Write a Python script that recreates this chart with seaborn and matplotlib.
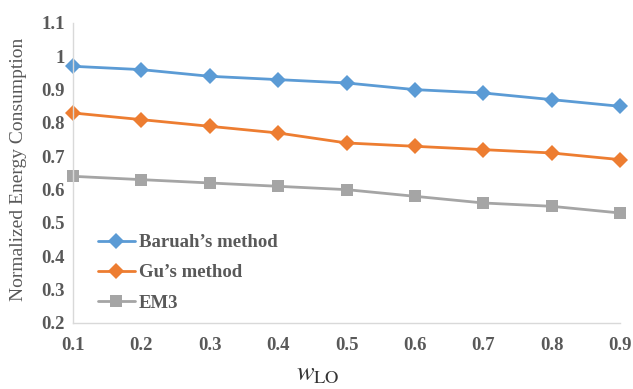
import seaborn as sns
import pandas as pd
import matplotlib.pyplot as plt

# data
w_lo = [0.1, 0.2, 0.3, 0.4, 0.5, 0.6, 0.7, 0.8, 0.9]
baruah = [0.97, 0.96, 0.94, 0.93, 0.92, 0.90, 0.89, 0.87, 0.85]
gu = [0.83, 0.81, 0.79, 0.77, 0.74, 0.73, 0.72, 0.71, 0.69]
em3 = [0.64, 0.63, 0.62, 0.61, 0.60, 0.58, 0.56, 0.55, 0.53]
methods = ["Baruah\u2019s method", "Gu\u2019s method", "EM3"]
y_ticks = [0.2, 0.3, 0.4, 0.5, 0.6, 0.7, 0.8, 0.9, 1.0, 1.1]
y_ticklabels = ["0.2", "0.3", "0.4", "0.5", "0.6", "0.7", "0.8", "0.9", "1", "1.1"]

df = pd.DataFrame({
    "w": w_lo * 3,
    "value": baruah + gu + em3,
    "method": [methods[0]] * 9 + [methods[1]] * 9 + [methods[2]] * 9,
})

sns.set_style("white")
plt.rcParams["font.family"] = ["Liberation Serif", "DejaVu Serif"]
plt.rcParams["mathtext.fontset"] = "stix"
txt_col = "#595959"

fig = plt.figure(figsize=(6.33, 3.89), dpi=100)
ax = fig.add_axes([0.1153, 0.1697, 0.8642, 0.7713])

pal = {methods[0]: "#5B9BD5", methods[1]: "#ED7D31", methods[2]: "#A5A5A5"}
mk = {methods[0]: "D", methods[1]: "D", methods[2]: "s"}
sns.lineplot(data=df, x="w", y="value", hue="method", style="method",
             palette=pal, markers=mk, dashes=False, markersize=8,
             markeredgewidth=0, linewidth=2, ax=ax, clip_on=False)

ax.set_xlim(0.1, 0.9)
ax.set_ylim(0.2, 1.1)
ax.set_xticks(w_lo)
ax.set_xticklabels([f"{v:.1f}" for v in w_lo])
ax.set_yticks(y_ticks)
ax.set_yticklabels(y_ticklabels)
ax.tick_params(length=0, labelsize=13.5, colors=txt_col)
ax.tick_params(axis="x", pad=10)
ax.tick_params(axis="y", pad=6)
for lab in ax.get_xticklabels() + ax.get_yticklabels():
    lab.set_fontweight("bold")

for s in ["top", "right"]:
    ax.spines[s].set_visible(False)
for s in ["left", "bottom"]:
    ax.spines[s].set_color("#D9D9D9")
    ax.spines[s].set_linewidth(1)

ax.set_xlabel("")
ax.set_ylabel("")
fig.text(0.03, 0.565, "Normalized Energy Consumption", fontsize=14,
         color=txt_col, rotation=90, ha="center", va="center")
fig.text(0.502, 0.035, r"$w_{\mathrm{LO}}$", fontsize=19, ha="center",
         va="center", color="#333333")

leg = ax.legend(loc="center left", bbox_to_anchor=(0.045, 0.167), frameon=False,
                borderpad=0, borderaxespad=0, handlelength=2.0,
                handletextpad=0.2, labelspacing=0.7,
                prop={"size": 13.5, "weight": "bold"})
for t in leg.get_texts():
    t.set_color(txt_col)

fig.savefig("out.png", dpi=100)
